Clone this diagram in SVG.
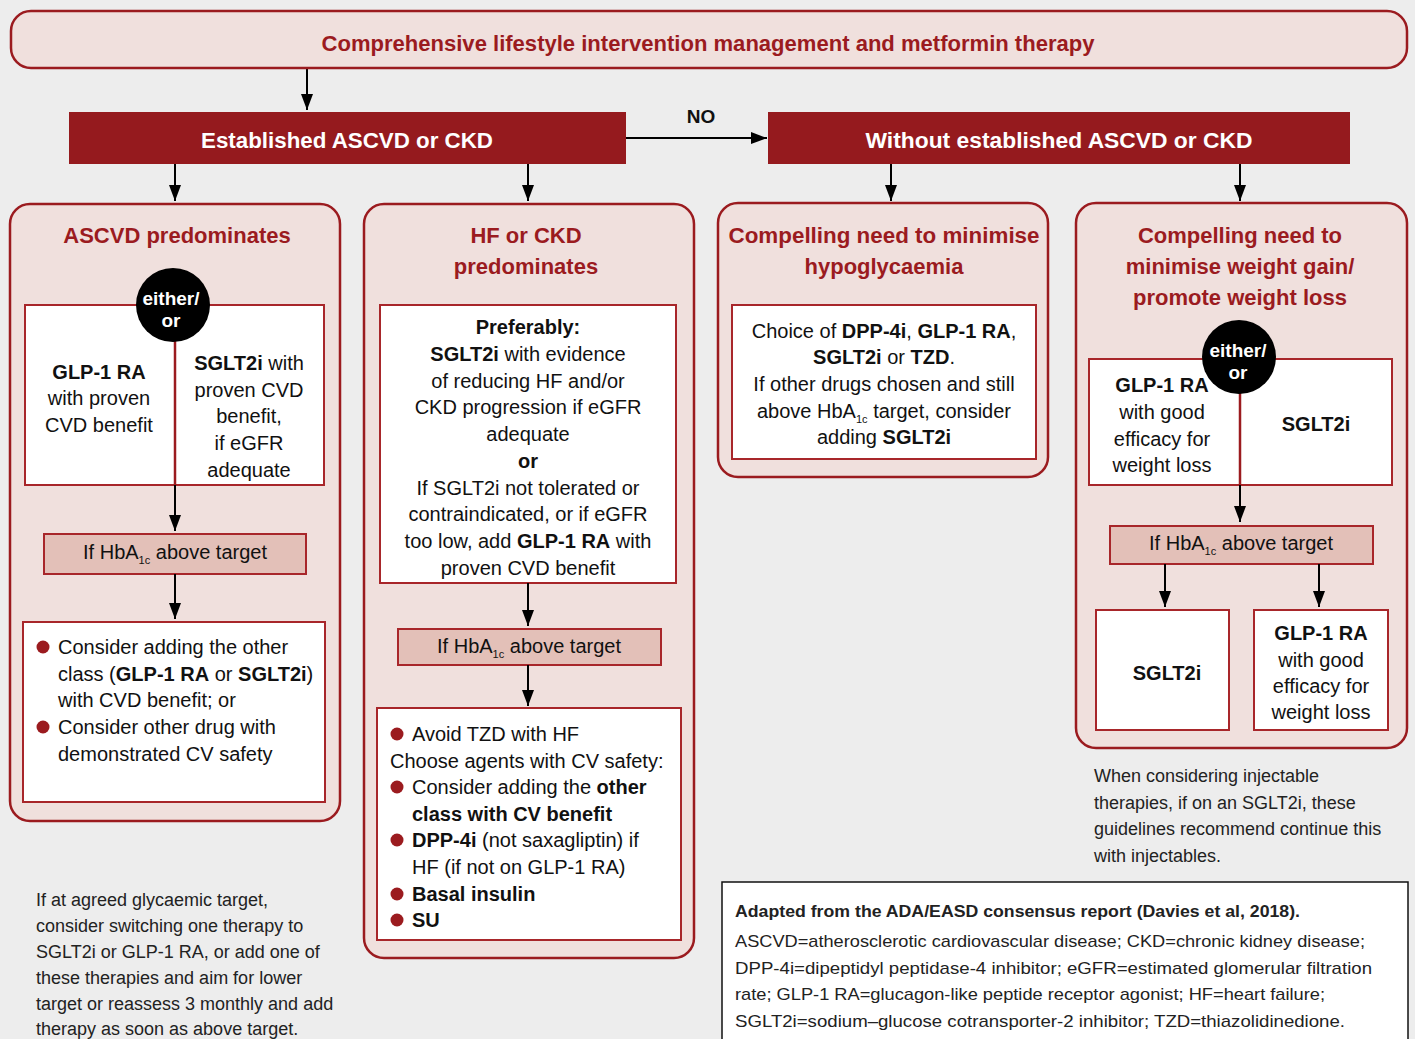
<svg xmlns="http://www.w3.org/2000/svg" width="1415" height="1039" viewBox="0 0 1415 1039">
<defs>
<marker id="ah" markerWidth="16" markerHeight="12" refX="16" refY="6" orient="auto" markerUnits="userSpaceOnUse" viewBox="0 0 16 12">
<path d="M0,0 L16,6 L0,12 Z" fill="#000"/>
</marker>
<style>
text{font-family:"Liberation Sans","DejaVu Sans",sans-serif;fill:#111;}
.panel{fill:#f0e0dd;stroke:#9b1b1f;stroke-width:2.5;}
.wbox{fill:#fff;stroke:#a8262a;stroke-width:2;}
.hbox{fill:#e3c0b8;stroke:#a8262a;stroke-width:2;}
.dark{fill:#951a1e;}
.hd{font-weight:bold;font-size:22px;fill:#9b1b1f;text-anchor:middle;}
.wh{font-weight:bold;font-size:22px;fill:#fff;text-anchor:middle;}
.t{font-size:20px;}
.c{text-anchor:middle;}
.b{font-weight:bold;}
.n{font-size:17px;fill:#222;}
.nn{font-size:18px;fill:#222;}
.eo{font-weight:bold;font-size:19px;fill:#fff;text-anchor:middle;}
.blt{fill:#9b1b1f;}
.ln{stroke:#000;stroke-width:2;fill:none;}
.dv{stroke:#9b1b1f;stroke-width:2.5;fill:none;}
.sub{font-size:11px;}
</style>
</defs>
<rect x="0" y="0" width="1415" height="1039" fill="#ededed"/>

<g id="connectors">
<line class="ln" x1="307" y1="69" x2="307" y2="110" marker-end="url(#ah)"/>
<line class="ln" x1="626" y1="138" x2="767" y2="138" marker-end="url(#ah)"/>
<line class="ln" x1="175" y1="164" x2="175" y2="201" marker-end="url(#ah)"/>
<line class="ln" x1="528" y1="164" x2="528" y2="201" marker-end="url(#ah)"/>
<line class="ln" x1="891" y1="164" x2="891" y2="201" marker-end="url(#ah)"/>
<line class="ln" x1="1240" y1="164" x2="1240" y2="201" marker-end="url(#ah)"/>
</g>
<text x="701" y="123" class="b" style="font-size:19px" text-anchor="middle">NO</text>

<g id="top">
<rect x="11" y="11" width="1396" height="57" rx="20" class="panel"/>
<text x="708" y="51" class="hd" textLength="773" lengthAdjust="spacingAndGlyphs">Comprehensive lifestyle intervention management and metformin therapy</text>
</g>

<g id="established">
<rect x="69" y="112" width="557" height="52" class="dark"/>
<text x="347" y="148" class="wh" textLength="292" lengthAdjust="spacingAndGlyphs">Established ASCVD or CKD</text>
</g>

<g id="without">
<rect x="768" y="112" width="582" height="52" class="dark"/>
<text x="1059" y="148" class="wh" textLength="387" lengthAdjust="spacingAndGlyphs">Without established ASCVD or CKD</text>
</g>

<g id="ascvd">
<rect x="10" y="204" width="330" height="617" rx="20" class="panel"/>
<text x="177" y="243" class="hd">ASCVD predominates</text>
<rect x="25" y="305" width="299" height="180" class="wbox"/>
<line class="dv" x1="175" y1="320" x2="175" y2="485"/>
<line class="ln" x1="175" y1="485" x2="175" y2="531" marker-end="url(#ah)"/>
<circle cx="173" cy="305" r="37" fill="#000"/>
<text x="171" y="305" class="eo">either/</text>
<text x="171" y="327" class="eo">or</text>
<text x="99" y="379" class="t c b">GLP-1 RA</text>
<text x="99" y="405" class="t c">with proven</text>
<text x="99" y="432" class="t c">CVD benefit</text>
<text x="249" y="370" class="t c"><tspan class="b">SGLT2i</tspan> with</text>
<text x="249" y="397" class="t c">proven CVD</text>
<text x="249" y="423" class="t c">benefit,</text>
<text x="249" y="450" class="t c">if eGFR</text>
<text x="249" y="477" class="t c">adequate</text>
<rect x="44" y="534" width="262" height="40" class="hbox"/>
<text x="175" y="559" class="t c">If HbA<tspan class="sub" dy="5">1c</tspan><tspan dy="-5"> above target</tspan></text>
<line class="ln" x1="175" y1="574" x2="175" y2="619" marker-end="url(#ah)"/>
<rect x="23" y="622" width="302" height="180" class="wbox"/>
<circle cx="43" cy="647" r="6.5" class="blt"/>
<text x="58" y="654" class="t">Consider adding the other</text>
<text x="58" y="681" class="t">class (<tspan class="b">GLP-1 RA</tspan> or <tspan class="b">SGLT2i</tspan>)</text>
<text x="58" y="707" class="t">with CVD benefit; or</text>
<circle cx="43" cy="727" r="6.5" class="blt"/>
<text x="58" y="734" class="t">Consider other drug with</text>
<text x="58" y="761" class="t">demonstrated CV safety</text>
</g>

<g id="hfckd">
<rect x="364" y="204" width="330" height="754" rx="20" class="panel"/>
<text x="526" y="243" class="hd">HF or CKD</text>
<text x="526" y="274" class="hd">predominates</text>
<rect x="380" y="305" width="296" height="278" class="wbox"/>
<text x="528" y="334" class="t c b">Preferably:</text>
<text x="528" y="361" class="t c"><tspan class="b">SGLT2i</tspan> with evidence</text>
<text x="528" y="388" class="t c">of reducing HF and/or</text>
<text x="528" y="414" class="t c">CKD progression if eGFR</text>
<text x="528" y="441" class="t c">adequate</text>
<text x="528" y="468" class="t c b">or</text>
<text x="528" y="495" class="t c">If SGLT2i not tolerated or</text>
<text x="528" y="521" class="t c">contraindicated, or if eGFR</text>
<text x="528" y="548" class="t c">too low, add <tspan class="b">GLP-1 RA</tspan> with</text>
<text x="528" y="575" class="t c">proven CVD benefit</text>
<line class="ln" x1="528" y1="583" x2="528" y2="626" marker-end="url(#ah)"/>
<rect x="398" y="629" width="263" height="36" class="hbox"/>
<text x="529" y="653" class="t c">If HbA<tspan class="sub" dy="5">1c</tspan><tspan dy="-5"> above target</tspan></text>
<line class="ln" x1="528" y1="665" x2="528" y2="706" marker-end="url(#ah)"/>
<rect x="377" y="708" width="304" height="232" class="wbox"/>
<circle cx="397" cy="734" r="6.5" class="blt"/>
<text x="412" y="741" class="t">Avoid TZD with HF</text>
<text x="390" y="768" class="t">Choose agents with CV safety:</text>
<circle cx="397" cy="787" r="6.5" class="blt"/>
<text x="412" y="794" class="t">Consider adding the <tspan class="b">other</tspan></text>
<text x="412" y="821" class="t b">class with CV benefit</text>
<circle cx="397" cy="840" r="6.5" class="blt"/>
<text x="412" y="847" class="t"><tspan class="b">DPP-4i</tspan> (not saxagliptin) if</text>
<text x="412" y="874" class="t">HF (if not on GLP-1 RA)</text>
<circle cx="397" cy="894" r="6.5" class="blt"/>
<text x="412" y="901" class="t b">Basal insulin</text>
<circle cx="397" cy="920" r="6.5" class="blt"/>
<text x="412" y="927" class="t b">SU</text>
</g>

<g id="hypo">
<rect x="718" y="203" width="330" height="274" rx="20" class="panel"/>
<text x="884" y="243" class="hd" textLength="311" lengthAdjust="spacingAndGlyphs">Compelling need to minimise</text>
<text x="884" y="274" class="hd">hypoglycaemia</text>
<rect x="732" y="305" width="304" height="154" class="wbox"/>
<text x="884" y="338" class="t c">Choice of <tspan class="b">DPP-4i</tspan>, <tspan class="b">GLP-1 RA</tspan>,</text>
<text x="884" y="364" class="t c"><tspan class="b">SGLT2i</tspan> or <tspan class="b">TZD</tspan>.</text>
<text x="884" y="391" class="t c">If other drugs chosen and still</text>
<text x="884" y="418" class="t c">above HbA<tspan class="sub" dy="5">1c</tspan><tspan dy="-5"> target, consider</tspan></text>
<text x="884" y="444" class="t c">adding <tspan class="b">SGLT2i</tspan></text>
</g>

<g id="weight">
<rect x="1076" y="203" width="331" height="545" rx="20" class="panel"/>
<text x="1240" y="243" class="hd">Compelling need to</text>
<text x="1240" y="274" class="hd">minimise weight gain/</text>
<text x="1240" y="305" class="hd">promote weight loss</text>
<rect x="1089" y="359" width="303" height="126" class="wbox"/>
<line class="dv" x1="1240" y1="380" x2="1240" y2="485"/>
<line class="ln" x1="1240" y1="485" x2="1240" y2="522" marker-end="url(#ah)"/>
<circle cx="1239" cy="357" r="37" fill="#000"/>
<text x="1238" y="357" class="eo">either/</text>
<text x="1238" y="379" class="eo">or</text>
<text x="1162" y="392" class="t c b">GLP-1 RA</text>
<text x="1162" y="419" class="t c">with good</text>
<text x="1162" y="446" class="t c">efficacy for</text>
<text x="1162" y="472" class="t c">weight loss</text>
<text x="1316" y="431" class="t c b">SGLT2i</text>
<rect x="1110" y="526" width="263" height="38" class="hbox"/>
<text x="1241" y="550" class="t c">If HbA<tspan class="sub" dy="5">1c</tspan><tspan dy="-5"> above target</tspan></text>
<line class="ln" x1="1165" y1="564" x2="1165" y2="607" marker-end="url(#ah)"/>
<line class="ln" x1="1319" y1="564" x2="1319" y2="607" marker-end="url(#ah)"/>
<rect x="1096" y="610" width="133" height="120" class="wbox"/>
<text x="1167" y="680" class="t c b">SGLT2i</text>
<rect x="1254" y="610" width="134" height="120" class="wbox"/>
<text x="1321" y="640" class="t c b">GLP-1 RA</text>
<text x="1321" y="667" class="t c">with good</text>
<text x="1321" y="693" class="t c">efficacy for</text>
<text x="1321" y="719" class="t c">weight loss</text>
</g>

<g id="note-right">
<text x="1094" y="782" class="nn">When considering injectable</text>
<text x="1094" y="809" class="nn">therapies, if on an SGLT2i, these</text>
<text x="1094" y="835" class="nn">guidelines recommend continue this</text>
<text x="1094" y="862" class="nn">with injectables.</text>
</g>

<g id="note-left">
<text x="36" y="906" class="nn">If at agreed glycaemic target,</text>
<text x="36" y="932" class="nn">consider switching one therapy to</text>
<text x="36" y="958" class="nn">SGLT2i or GLP-1 RA, or add one of</text>
<text x="36" y="984" class="nn">these therapies and aim for lower</text>
<text x="36" y="1010" class="nn">target or reassess 3 monthly and add</text>
<text x="36" y="1035" class="nn">therapy as soon as above target.</text>
</g>

<g id="footnote">
<rect x="722" y="882" width="686" height="170" fill="#fff" stroke="#111" stroke-width="1.5"/>
<text x="735" y="917" class="n b" textLength="565" lengthAdjust="spacingAndGlyphs">Adapted from the ADA/EASD consensus report (Davies et al, 2018).</text>
<text x="735" y="947" class="n" textLength="630" lengthAdjust="spacingAndGlyphs">ASCVD=atherosclerotic cardiovascular disease; CKD=chronic kidney disease;</text>
<text x="735" y="974" class="n" textLength="637" lengthAdjust="spacingAndGlyphs">DPP-4i=dipeptidyl peptidase-4 inhibitor; eGFR=estimated glomerular filtration</text>
<text x="735" y="1000" class="n" textLength="590" lengthAdjust="spacingAndGlyphs">rate; GLP-1 RA=glucagon-like peptide receptor agonist; HF=heart failure;</text>
<text x="735" y="1027" class="n" textLength="610" lengthAdjust="spacingAndGlyphs">SGLT2i=sodium–glucose cotransporter-2 inhibitor; TZD=thiazolidinedione.</text>
</g>
</svg>
